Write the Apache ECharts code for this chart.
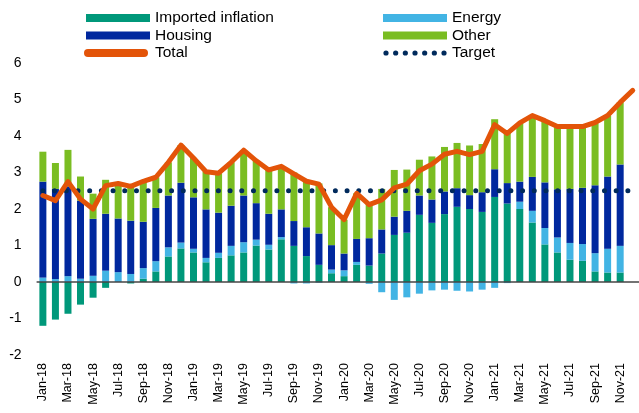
<!DOCTYPE html>
<html>
<head>
<meta charset="utf-8">
<script src="https://cdn.jsdelivr.net/npm/echarts@6/dist/echarts.min.js"></script>
<style>
html,body{margin:0;padding:0;background:#fff;}
#chart{width:639px;height:413px;}
</style>
</head>
<body>
<div id="chart"></div>
<script>
const months = ["Jan-18","Feb-18","Mar-18","Apr-18","May-18","Jun-18","Jul-18","Aug-18","Sep-18","Oct-18","Nov-18","Dec-18",
"Jan-19","Feb-19","Mar-19","Apr-19","May-19","Jun-19","Jul-19","Aug-19","Sep-19","Oct-19","Nov-19","Dec-19",
"Jan-20","Feb-20","Mar-20","Apr-20","May-20","Jun-20","Jul-20","Aug-20","Sep-20","Oct-20","Nov-20","Dec-20",
"Jan-21","Feb-21","Mar-21","Apr-21","May-21","Jun-21","Jul-21","Aug-21","Sep-21","Oct-21","Nov-21","Dec-21"];

const imported = [-1.20,-1.03,-0.87,-0.62,-0.43,-0.16,0.00,-0.04,0.09,0.29,0.70,0.92,
0.81,0.54,0.66,0.73,0.81,1.00,0.89,1.17,0.99,0.71,0.47,0.24,
0.16,0.47,0.45,0.78,1.29,1.35,1.84,1.62,1.86,2.06,2.00,1.92,
2.33,2.15,2.00,1.63,1.03,0.81,0.61,0.58,0.29,0.26,0.26,null];

const energy = [0.12,0.08,0.16,0.09,0.17,0.31,0.27,0.22,0.29,0.28,0.25,0.16,
0.10,0.12,0.14,0.26,0.28,0.16,0.13,0.06,-0.04,-0.04,-0.02,0.10,
0.16,0.08,-0.05,-0.28,-0.49,-0.42,-0.32,-0.23,-0.21,-0.24,-0.26,-0.21,
-0.16,-0.03,0.20,0.32,0.45,0.41,0.46,0.46,0.50,0.65,0.73,null];

const housing = [2.63,2.47,2.46,2.14,1.56,1.56,1.47,1.46,1.27,1.46,1.42,1.64,
1.41,1.33,1.10,1.10,1.28,1.00,0.85,0.76,0.68,0.79,0.86,0.67,
0.46,0.63,0.75,0.66,0.50,0.60,0.53,0.64,0.62,0.51,0.38,0.54,
0.76,0.56,0.55,0.93,1.25,1.32,1.48,1.54,1.86,1.98,2.23,null];

const other = [0.82,0.71,1.00,0.66,0.69,0.93,0.96,0.98,1.11,0.84,0.91,1.03,
1.08,1.03,1.08,1.19,1.24,1.16,1.20,1.18,1.33,1.28,1.37,1.04,
0.93,1.25,0.97,1.11,1.28,1.13,0.98,1.18,1.22,1.24,1.36,1.32,
1.37,1.37,1.60,1.66,1.68,1.70,1.69,1.66,1.70,1.66,1.70,null];

const total = [2.37,2.23,2.75,2.27,2.00,2.64,2.70,2.62,2.76,2.87,3.28,3.75,
3.40,3.02,2.98,3.28,3.61,3.32,3.07,3.17,2.96,2.76,2.68,2.05,
1.71,2.43,2.12,2.25,2.58,2.68,3.05,3.23,3.50,3.58,3.49,3.58,
4.31,4.07,4.36,4.56,4.42,4.26,4.26,4.26,4.37,4.56,4.92,5.25];

const target = [2.5,2.5,2.5,2.5,2.5,2.5,2.5,2.5,2.5,2.5,2.5,2.5,
2.5,2.5,2.5,2.5,2.5,2.5,2.5,2.5,2.5,2.5,2.5,2.5,
2.5,2.5,2.5,2.5,2.5,2.5,2.5,2.5,2.5,2.5,2.5,2.5,
2.5,2.5,2.5,2.5,2.5,2.5,2.5,2.5,2.5,2.5,2.5,2.5];

const yTicks = {min:-2, max:6, interval:1};

const C = {
  imported:'#00987A', energy:'#42B4E4', housing:'#00289E', other:'#7ABD22',
  total:'#E35409', target:'#002A5C'
};
const FONT = 'Liberation Sans, Arial, sans-serif';

// legend icon shapes (64 x 8 boxes)
const capsuleIcon = 'path://M4,0L60,0A4,4 0 0 1 60,8L4,8A4,4 0 0 1 4,0Z';
let dots = '';
for (let i = 0; i < 7; i++) {
  const cx = 3 + i * 9.67, r = 2.6;
  dots += 'M' + (cx - r) + ',4A' + r + ',' + r + ' 0 1 0 ' + (cx + r) + ',4A' + r + ',' + r + ' 0 1 0 ' + (cx - r) + ',4Z';
}
const dotsIcon = 'path://M0,0L0.01,0ZM64,8L63.99,8Z' + dots;

function leg(name, left, top, icon, w, h){
  const d = {name:name, icon:icon};
  return {
    data:[d], left:left, top:top, padding:0, orient:'horizontal',
    itemWidth:w || 64, itemHeight:h || 8, selectedMode:false,
    textStyle:{fontFamily:FONT, fontSize:15.5, color:'#000', lineHeight:16}
  };
}

const chart = echarts.init(document.getElementById('chart'), null, {renderer:'canvas'});
chart.setOption({
  animation:false,
  backgroundColor:'#fff',
  legend:[
    leg('Imported inflation', 86, 10, 'rect'),
    leg('Housing', 86, 27.5, 'rect'),
    leg('Total', 84, 45, capsuleIcon, 68, 8),
    leg('Energy', 383, 10, 'rect'),
    leg('Other', 383, 27.5, 'rect'),
    leg('Target', 383, 45, dotsIcon, 64, 8)
  ],
  grid:{left:36.6, right:-12, top:63, bottom:58, containLabel:false},
  xAxis:{
    type:'category', data:months, boundaryGap:true,
    axisLine:{show:false, onZero:false}, axisTick:{show:false},
    axisLabel:{rotate:90, interval:1, fontFamily:FONT, fontSize:12.5, color:'#000', margin:8}
  },
  yAxis:{
    type:'value', min:yTicks.min, max:yTicks.max, interval:yTicks.interval,
    splitLine:{show:false}, axisLine:{show:false}, axisTick:{show:false},
    axisLabel:{fontFamily:FONT, fontSize:14, color:'#000', margin:15}
  },
  series:[
    {name:'Imported inflation', type:'bar', stack:'s', data:imported, barWidth:7,
     itemStyle:{color:C.imported},
     markLine:{silent:true, symbol:'none', label:{show:false}, z:10,
       lineStyle:{color:'#444', width:1.5, type:'solid'}, data:[{yAxis:0}]}},
    {name:'Energy', type:'bar', stack:'s', data:energy, barWidth:7, itemStyle:{color:C.energy}},
    {name:'Housing', type:'bar', stack:'s', data:housing, barWidth:7, itemStyle:{color:C.housing}},
    {name:'Other', type:'bar', stack:'s', data:other, barWidth:7, itemStyle:{color:C.other}},
    {name:'Target', type:'line', data:target, symbol:'none', z:5,
     itemStyle:{color:C.target},
     lineStyle:{color:C.target, width:5, type:[0,11.7], cap:'round'}},
    {name:'Total', type:'line', data:total, symbol:'none', z:6,
     itemStyle:{color:C.total},
     lineStyle:{color:C.total, width:5, join:'round', cap:'round'}}
  ]
});
</script>
</body>
</html>
